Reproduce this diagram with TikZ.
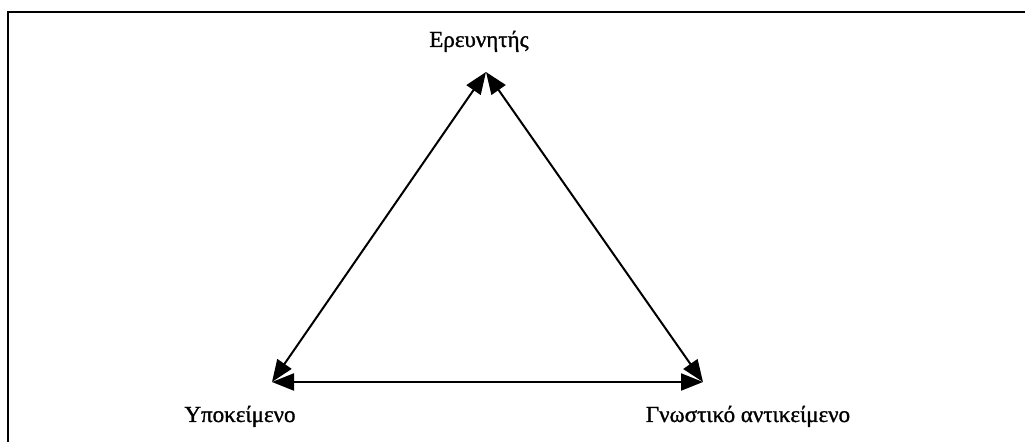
\documentclass[tikz,border=0pt]{standalone}
\usepackage{fontspec}
\setmainfont{Liberation Serif}[BoldFont=Liberation Serif, BoldFeatures={FakeBold=1.2}]
\usetikzlibrary{arrows.meta, positioning}

\begin{document}
\begin{tikzpicture}[
    x=0.5pt, y=-0.5pt,
    term/.style={font=\fontsize{11.5}{14}\selectfont\bfseries, anchor=base, inner sep=0pt},
    link/.style={{Triangle[length=11pt, width=8.5pt]}-{Triangle[length=11pt, width=8.5pt]}, line width=1pt}
]
\useasboundingbox (0,0) rectangle (1025,442);

% frame
\draw[line width=1.1pt] (8,442) -- (8,12) -- (1025,12);

% corners of the triangle
\coordinate (res) at (486,72);
\coordinate (sub) at (272,382);
\coordinate (obj) at (703,382);

\draw[link] (res) -- (sub);
\draw[link] (res) -- (obj);
\draw[link] (sub) -- (obj);

% labels
\node[term] (lres) at (479,47) {Ερευνητής};
\node[term] (lsub) at (240,422) {Υποκείμενο};
\node[term] (lobj) at (748,422) {Γνωστικό αντικείμενο};

\end{tikzpicture}
\end{document}
